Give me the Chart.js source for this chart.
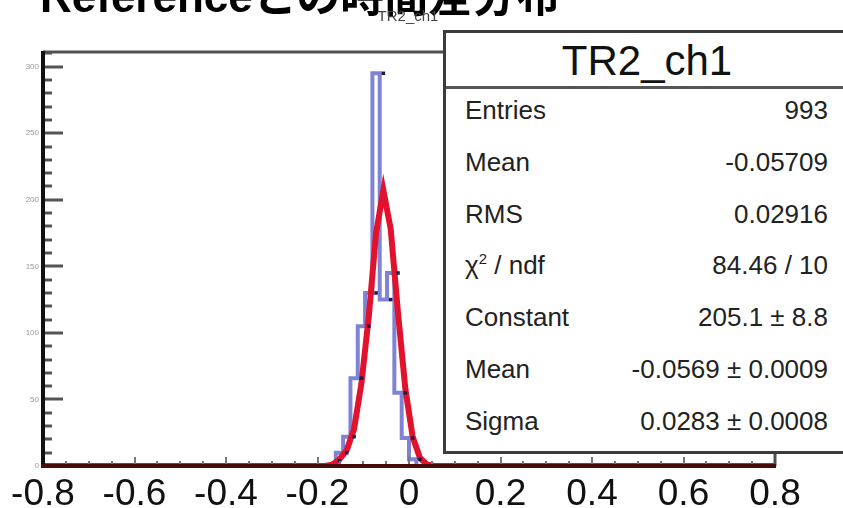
<!DOCTYPE html>
<html>
<head>
<meta charset="utf-8">
<script src="https://cdn.jsdelivr.net/npm/chart.js@4.4.1/dist/chart.umd.min.js"></script>
<style>
  html, body { margin: 0; padding: 0; background: #fff; overflow: hidden; }
  #wrap { position: relative; width: 843px; height: 508px; overflow: hidden; font-family: "Liberation Sans", Arial, sans-serif; }
  #chart { position: absolute; left: 0; top: 0; }
  #pageTitle { position: absolute; left: 40px; top: -25px; font-size: 44px; line-height: 44px; font-weight: bold; color: #000; white-space: nowrap; font-family: "Liberation Sans", "Noto Sans CJK JP", sans-serif; }
  #histTitle { position: absolute; left: 348px; width: 120px; top: 7px; text-align: center; font-size: 15px; color: #444; }
  #stats { position: absolute; left: 443px; top: 30px; width: 402px; height: 418px; border: 3px solid #3c3c3c; background: #fff; }
  #stats .head { position: absolute; left: 0; right: 0; top: 0; height: 53px; border-bottom: 3px solid #555; text-align: center; font-size: 42px; line-height: 56px; color: #111; }
  #stats .row { position: absolute; left: 19px; width: 363px; height: 30px; font-size: 26px; line-height: 30px; color: #222; }
  #stats .row .v { position: absolute; right: 0; top: 0; }
  #stats sup { font-size: 15px; line-height: 0; }
</style>
</head>
<body>
<div id="wrap">
  <canvas id="chart" width="843" height="508"></canvas>
  <div id="pageTitle">Referenceとの時間差分布</div>
  <div id="histTitle">TR2_ch1</div>
  <div id="stats"></div>
</div>
<script>
// histogram: 0.016 wide bins starting at -0.16
const binStart = -0.16;
const binWidth = 0.016;
const counts = [4, 10, 22, 66, 105, 130, 295, 125, 145, 55, 21, 5];

// gaussian fit curve
const fitX = [-0.8, -0.184, -0.168, -0.152, -0.136, -0.120, -0.104, -0.088, -0.072, -0.056, -0.040, -0.024, -0.008, 0.008, 0.024, 0.040, 0.056, 0.8];
const fitY = [0, 0, 1, 5, 12, 28, 62, 112, 175, 207, 178, 115, 58, 22, 6, 1, 0, 0];

const xTicks = [-0.8, -0.6, -0.4, -0.2, 0, 0.2, 0.4, 0.6, 0.8];
const yTicks = [0, 50, 100, 150, 200, 250, 300];

const statLabels = ['Entries', 'Mean', 'RMS', 'χ<sup>2</sup> / ndf', 'Constant', 'Mean', 'Sigma'];
const statValues = ['993', '-0.05709', '0.02916', '84.46 / 10', '205.1 ± 8.8', '-0.0569 ± 0.0009', '0.0283 ± 0.0008'];

const statsEl = document.getElementById('stats');
statsEl.innerHTML = '<div class="head">TR2_ch1</div>' + statLabels.map((l, i) =>
  `<div class="row" style="top:${62 + i * 51.8}px"><span>${l}</span><span class="v">${statValues[i]}</span></div>`
).join('');

const histPts = [{ x: binStart, y: 0 }];
counts.forEach((c, i) => histPts.push({ x: binStart + i * binWidth, y: c }));
histPts.push({ x: binStart + counts.length * binWidth, y: 0 });

const markerPts = counts.map((c, i) => ({ x: binStart + (i + 0.5) * binWidth, y: c }));
const fitPts = fitX.map((x, i) => ({ x, y: fitY[i] }));

const frame = {
  id: 'frame',
  afterDraw(chart) {
    const { ctx, chartArea: a, scales: { x, y } } = chart;
    ctx.save();
    ctx.lineCap = 'butt';
    // y ticks, inside
    ctx.strokeStyle = '#555';
    ctx.lineWidth = 3;
    for (let v = 0; v <= 310; v += 10) {
      const py = Math.round(y.getPixelForValue(v));
      const len = v % 50 === 0 ? 20 : 9;
      ctx.beginPath(); ctx.moveTo(a.left, py); ctx.lineTo(a.left + len, py); ctx.stroke();
    }
    // x ticks, inside
    ctx.strokeStyle = '#777';
    ctx.lineWidth = 2;
    for (let k = 0; k <= 32; k++) {
      const v = -0.8 + k * 0.05;
      const px = Math.round(x.getPixelForValue(v));
      const len = k % 4 === 0 ? 9 : 5;
      ctx.beginPath(); ctx.moveTo(px, a.bottom); ctx.lineTo(px, a.bottom - len); ctx.stroke();
    }
    // frame
    ctx.strokeStyle = '#505050';
    ctx.lineWidth = 3;
    ctx.beginPath(); ctx.moveTo(a.left, a.top); ctx.lineTo(a.right, a.top); ctx.lineTo(a.right, a.bottom); ctx.stroke();
    ctx.strokeStyle = '#111';
    ctx.lineWidth = 4;
    ctx.beginPath(); ctx.moveTo(a.left, a.top - 1); ctx.lineTo(a.left, a.bottom); ctx.stroke();
    ctx.strokeStyle = '#4a0a0a';
    ctx.beginPath(); ctx.moveTo(a.left - 2, a.bottom); ctx.lineTo(a.right + 1, a.bottom); ctx.stroke();
    ctx.restore();
  }
};

new Chart(document.getElementById('chart'), {
  type: 'line',
  data: {
    datasets: [
      {
        type: 'scatter',
        data: markerPts,
        pointStyle: 'rect',
        pointRadius: 2.5,
        backgroundColor: '#1c1c48',
        borderWidth: 0,
      },
      {
        data: fitPts,
        borderColor: '#e3122c',
        borderWidth: 6,
        pointRadius: 0,
        tension: 0,
        fill: false,
      },
      {
        data: histPts,
        stepped: 'after',
        borderColor: '#8083d4',
        borderWidth: 4,
        pointRadius: 0,
        fill: false,
      },
    ],
  },
  options: {
    responsive: false,
    animation: false,
    events: [],
    layout: { padding: { top: 52, right: 68, left: 0, bottom: 0 } },
    plugins: { legend: { display: false }, tooltip: { enabled: false } },
    scales: {
      x: {
        type: 'linear',
        min: -0.8,
        max: 0.8,
        afterFit: s => { s.height = 42; },
        afterBuildTicks: s => { s.ticks = xTicks.map(v => ({ value: v })); },
        grid: { display: false, drawTicks: false },
        border: { display: false },
        ticks: {
          padding: 7,
          color: '#111',
          maxRotation: 0,
          autoSkip: false,
          font: { family: '"Liberation Sans", Arial, sans-serif', size: 37 },
          callback: v => (Math.abs(v) < 1e-9 ? '0' : v.toFixed(1)),
        },
      },
      y: {
        min: 0,
        max: 311,
        afterFit: s => { s.width = 43; },
        afterBuildTicks: s => { s.ticks = yTicks.map(v => ({ value: v })); },
        grid: { display: false, drawTicks: false },
        border: { display: false },
        ticks: {
          padding: 4,
          color: '#9a9a9a',
          font: { family: '"Liberation Sans", Arial, sans-serif', size: 8 },
        },
      },
    },
  },
  plugins: [frame],
});
</script>
</body>
</html>
